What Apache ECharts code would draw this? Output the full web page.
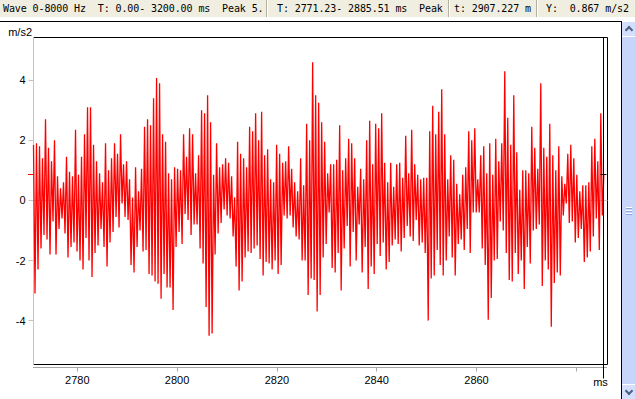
<!DOCTYPE html>
<html>
<head>
<meta charset="utf-8">
<script src="https://cdn.jsdelivr.net/npm/echarts@6/dist/echarts.min.js"></script>
<style>
  html, body { margin: 0; padding: 0; background: #fff; }
  #wrap { position: relative; width: 635px; height: 399px; overflow: hidden; background: #fff; }
  #status { position: absolute; left: 0; top: 0; width: 635px; height: 17px; background: #f0eee0;
            font: 10px/12px "DejaVu Sans Mono", monospace; color: #000; letter-spacing: -0.1px; }
  #status span { position: absolute; top: 3px; white-space: pre; }
  .sep { position: absolute; top: 0; width: 1px; height: 17px; background: #b4b1a2; border-right: 1px solid #fff; }
  #panel { position: absolute; left: 0; top: 21px; width: 622px; height: 378px; box-sizing: border-box;
           border-top: 1px solid #000; border-right: 1px solid #000; }
  #chart { position: absolute; left: 0; top: 0; width: 621px; height: 399px; }
  #scroll { position: absolute; left: 622px; top: 22px; width: 13px; height: 377px; background: #c7d5fb; }
  .btn { position: absolute; left: 0; width: 13px; height: 14px; background: #d3dffc; border-bottom: 1px solid #fff; }
  .btn.down { border-bottom: none; border-top: 1px solid #fff; }
  .chev { position: absolute; left: 4px; width: 4px; height: 4px; border-left: 2px solid #4d6185; border-top: 2px solid #4d6185; }
  .chev.up { top: 5px; transform: rotate(45deg); }
  .chev.dn { top: 3px; transform: rotate(225deg); }
  .grip { position: absolute; left: 4px; width: 6px; height: 1px; background: #fff; border-bottom: 1px solid #8fa6e0; }
</style>
</head>
<body>
<div id="wrap">
  <div id="status">
    <span style="left:3px">Wave 0-8000 Hz  T: 0.00- 3200.00 ms  Peak 5.</span>
    <div class="sep" style="left:266px"></div>
    <span style="left:277px">T: 2771.23- 2885.51 ms  Peak</span>
    <div class="sep" style="left:448px"></div>
    <span style="left:454px">t: 2907.227 m</span>
    <div class="sep" style="left:536px"></div>
    <span style="left:546px">Y:  0.867 m/s2</span>
  </div>
  <div id="panel"></div>
  <div id="chart"></div>
  <div id="scroll">
    <div class="btn" style="top:0"><div class="chev up"></div></div>
    <div class="grip" style="top:185px"></div>
    <div class="grip" style="top:188px"></div>
    <div class="grip" style="top:191px"></div>
    <div class="btn down" style="bottom:0"><div class="chev dn"></div></div>
  </div>
</div>
<script>
// time window shown (ms) and cursor readout
const tStart = 2771.23;
const tEnd = 2885.51;
const cursorT = 2885.51;
const cursorY = 0.867;

// axis ranges and ticks
const xMin = 2771.23;
const xMax = 2886.25;
const yMin = -5.46;
const yMax = 5.42;
const xTicks = [2780, 2800, 2820, 2840, 2860, 2880];
const xLabels = [2780, 2800, 2820, 2840, 2860];
const yTicks = [-4, -2, 0, 2, 4];

// zero reference line across the window
const zeroLine = [[xMin, 0], [xMax, 0]];

const segA = [
  1.84, -3.1, 1.9, -2.3, 1.8, -1.6, 1.4, -1.15, 2.7, -1.3, 1.75, -1.8, 1.3, -0.7, 2.0, -1.8,
  0.8, -0.95, 0.4, -0.6, 0.6, -1.1, 1.45, -1.9, 0.95, -1.55, 0.8, -1.4, 2.35, -1.7, 0.85, -2.0,
  1.45, -2.3, 2.2, -1.25, 3.1, -2.0, 3.1, -2.55, 1.85, -1.75, 1.3, -1.5, 0.9, -0.95, 0.6, -1.55,
  1.9, -2.2, 1.0, -1.4, 1.4, -1.05, 1.9, -0.55, 1.55, -0.9, 2.2, -0.1, 1.2, -0.55, 1.3, -0.65,
  0.7, -2.15, 0.1, -2.4, 1.1, -1.55, 0.3, -1.0, 1.05, -1.7, 2.45, -1.65, 2.7, -2.45, 2.5, -2.5,
  3.4, -2.7, 4.07, -2.77, 3.9, -3.27, 2.2, -2.45, 1.95, -2.9, 0.9, -2.9, 0.7, -3.65, 1.1, -1.55,
  1.05, -1.05
];
const segB = [
  1.0, -1.45, 2.2, -0.45, 1.45, -0.65, 2.4, -1.15, 2.2, -0.8, 0.9, -0.8, 1.5, -1.6, 3.0, -2.1,
  2.9, -3.55, 3.5, -4.5, 2.6, -4.43, 0.85, -1.8, 1.9, -1.1, 1.1, -0.75, 1.2, -0.3, 1.4, -0.5,
  1.25, -0.6, 0.8, -1.2, 0.1, -2.2, 1.95, -3.0, 1.55, -2.7, 1.4, -1.9, 1.1, -1.7, 2.45, -1.75,
  2.3, -1.6, 2.9, -1.5, 2.0, -1.95, 2.95, -2.5, 1.5, -2.05, 1.7, -2.1, 0.7, -2.3, 0.6, -2.0,
  1.85, -2.45, 1.55, -2.15, 1.25, -0.5, 1.3, -0.6, 1.8, -0.5, 1.05, -0.9, 0.6, -1.2, 0.3, -1.3,
  1.4, -2.0, 0.5, -2.0, 2.55, -3.15, 2.0, -2.6, 4.6, -2.65, 3.5, -3.7, 3.25, -3.15, 2.6, -1.9,
  1.95, -1.45, 0.9, -0.4
];
const segC = [
  1.2, -2.25, 1.2, -2.4, 1.35, -1.75, 2.5, -3.0, 1.0, -1.6, 1.4, -0.85, 2.05, -2.2, 1.9, -1.05,
  1.4, -2.0, 0.45, -0.8, 1.05, -2.4, 0.7, -1.55, 2.0, -2.95, 2.65, -2.2, 1.2, -2.45, 2.55, -1.45,
  2.4, -1.85, 2.9, -1.4, 1.25, -2.3, 0.6, -2.05, 1.25, -1.5, 0.45, -1.3, 1.2, -1.45, 1.25, -1.7,
  0.75, -1.25, 2.15, -0.85, 0.9, -1.2, 2.35, -1.35, 1.2, -0.65, 0.85, -1.5, 0.7, -1.4, 0.75, -1.75,
  0.75, -4.0, 2.3, -2.6, 3.15, -2.5, 2.2, -1.65, 2.95, -2.15, 3.7, -2.5, 2.2, -2.0, 0.7, -1.2,
  1.5, -1.9, 1.35, -2.5, 0.55, -1.45, 0.2, -1.3, 0.85, -1.65, 1.1, -0.95, 2.3, -1.75, 2.0, -0.4,
  2.4, -0.4, 0.7, -0.4
];
const segD = [
  1.5, -1.6, 1.8, -2.15, 0.9, -3.97, 1.9, -3.25, 0.85, -2.0, 2.05, -1.95, 1.3, -0.7, 1.9, -1.0,
  4.3, -1.75, 2.75, -2.65, 1.85, -2.7, 3.5, -1.75, 1.6, -2.45, 0.35, -2.0, 1.0, -2.95, 1.0, -1.55,
  0.9, -2.1, 2.45, -1.0, 1.75, -0.95, 1.05, -0.8, 3.9, -2.85, 1.75, -2.0, 1.45, -2.3, 2.55, -4.2,
  1.5, -2.75, 1.0, -2.4, 1.8, -2.5, 0.8, -0.5, 0.55, -0.1, 1.55, -0.75, 1.85, -0.7, 1.4, -1.4,
  0.85, -1.25, 0.3, -0.95, 0.5, -2.05, 0.5, -1.9, 0.6, -1.7, 1.8, -1.2, 2.05, -0.6, 1.3, -1.65,
  2.9, -0.5, 0.87
];

const samples = segA.concat(segB, segC, segD);
const step = (tEnd - tStart) / (samples.length - 1);
const wave = samples.map((v, i) => [tStart + i * step, v]);

const chart = echarts.init(document.getElementById('chart'), null, { renderer: 'svg' });

const labelFont = { color: '#000', fontSize: 11, fontFamily: 'Liberation Sans' };

const option = {
  animation: false,
  backgroundColor: 'transparent',
  textStyle: { fontFamily: 'Liberation Sans' },
  grid: {
    left: 33.5, right: 13.5, top: 37.5, bottom: 34.5,
    show: true, borderColor: '#000', borderWidth: 1, backgroundColor: 'transparent',
    outerBoundsMode: 'none'
  },
  xAxis: {
    type: 'value',
    min: xMin,
    max: xMax,
    offset: 3,
    axisLine: { show: true, onZero: false, lineStyle: { color: '#9a9a9a', type: 'dotted', width: 1 } },
    axisTick: { show: true, length: 4, customValues: xTicks, lineStyle: { color: '#a8a8a8' } },
    axisLabel: Object.assign({ customValues: xLabels, margin: 7, formatter: v => String(v) }, labelFont),
    splitLine: { show: false }
  },
  yAxis: {
    type: 'value',
    min: yMin,
    max: yMax,
    axisLine: { show: true, lineStyle: { color: '#c4c4c4', width: 1 } },
    axisTick: { show: true, length: 5, customValues: yTicks, lineStyle: { color: '#c4c4c4' } },
    axisLabel: Object.assign({ customValues: yTicks, margin: 8, formatter: v => String(v) }, labelFont),
    splitLine: { show: false }
  },
  series: [
    {
      // zero reference, under the waveform
      type: 'line',
      z: 1,
      silent: true,
      data: zeroLine,
      symbol: 'none',
      lineStyle: { color: '#c8c8c8', width: 1 },
      emphasis: { disabled: true }
    },
    {
      type: 'line',
      z: 2,
      silent: true,
      data: wave,
      symbol: 'none',
      showSymbol: false,
      clip: true,
      lineStyle: { color: '#ff0000', width: 1.3 },
      itemStyle: { color: '#ff0000' },
      emphasis: { disabled: true }
    }
  ]
};

chart.setOption(option);

// cursor lines and axis unit labels, placed from the axes' own scales
const cx = Math.floor(chart.convertToPixel({ xAxisIndex: 0 }, cursorT)) + 0.5;
const cy = Math.floor(chart.convertToPixel({ yAxisIndex: 0 }, cursorY)) + 0.5;
const gTop = chart.convertToPixel({ yAxisIndex: 0 }, yMax);
const gBottom = chart.convertToPixel({ yAxisIndex: 0 }, yMin);
const gLeft = chart.convertToPixel({ xAxisIndex: 0 }, xMin);

chart.setOption({
  graphic: [
    { type: 'line', id: 'cursorV', z: 10, silent: true,
      shape: { x1: cx, y1: gTop, x2: cx, y2: gBottom + 14 },
      style: { stroke: '#000', lineWidth: 1 } },
    { type: 'line', id: 'cursorH', z: 10, silent: true,
      shape: { x1: cx - 3, y1: cy, x2: cx + 3, y2: cy },
      style: { stroke: '#000', lineWidth: 1 } },
    { type: 'line', id: 'cursorY', z: 10, silent: true,
      shape: { x1: gLeft - 5.5, y1: cy, x2: gLeft, y2: cy },
      style: { stroke: '#ff0000', lineWidth: 1 } },
    { type: 'text', id: 'yUnit', silent: true, x: gLeft - 1.5, y: gTop - 6,
      style: { text: 'm/s2', align: 'right', verticalAlign: 'middle', fill: '#000', font: '11px "Liberation Sans"' } },
    { type: 'text', id: 'xUnit', silent: true, x: cx - 3, y: gBottom + 17,
      style: { text: 'ms', align: 'center', verticalAlign: 'middle', fill: '#000', font: '11px "Liberation Sans"' } }
  ]
});
</script>
</body>
</html>
